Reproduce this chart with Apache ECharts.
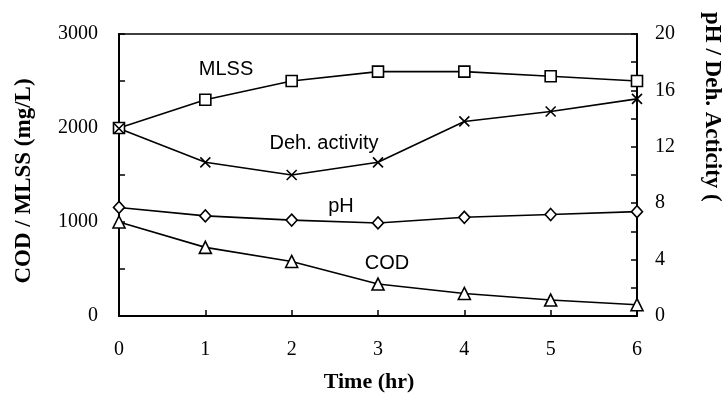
<!DOCTYPE html>
<html>
<head>
<meta charset="utf-8">
<script src="https://cdn.jsdelivr.net/npm/echarts@6/dist/echarts.min.js"></script>
<style>
  html, body { margin: 0; padding: 0; background: #fff; }
  #chart { width: 728px; height: 400px; }
</style>
</head>
<body>
<div id="chart"></div>
<script>
// Time axis (hr)
const hours = [0, 1, 2, 3, 4, 5, 6];
// Left axis series (mg/L)
const mlss = [2000, 2300, 2500, 2600, 2600, 2550, 2500];
const cod = [1000, 730, 580, 340, 240, 170, 120];
// Right axis series
const dehActivity = [13.3, 10.9, 10.0, 10.9, 13.8, 14.5, 15.4];
const ph = [7.7, 7.1, 6.8, 6.6, 7.0, 7.2, 7.4];

const serif = '"Liberation Serif", "Times New Roman", serif';
const sans = '"Liberation Sans", Arial, sans-serif';

const pairs = ys => hours.map((h, i) => [h, ys[i]]);

const crossPath = 'path://M0,0L10,10M10,0L0,10';

function lineSeries(name, ys, yAxisIndex, symbol, size) {
  return {
    name, type: 'line', yAxisIndex, data: pairs(ys),
    symbol, symbolSize: size, showSymbol: true,
    lineStyle: { color: '#000', width: 1.6 },
    itemStyle: { color: symbol === crossPath ? 'none' : '#fff', borderColor: '#000', borderWidth: 1.6 },
    emphasis: { disabled: true },
    animation: false, z: 3
  };
}

const tickStyle = { lineStyle: { color: '#000', width: 1.5 } };
const plainNumber = v => String(v);

const chart = echarts.init(document.getElementById('chart'));
chart.setOption({
  animation: false,
  backgroundColor: '#fff',
  grid: { left: 119, right: 91, top: 34, bottom: 84, show: true, borderColor: '#000', borderWidth: 1.5, containLabel: false },
  xAxis: {
    type: 'value', min: 0, max: 6, interval: 1,
    axisLine: { show: true, lineStyle: { color: '#000', width: 2 } },
    axisTick: { show: true, inside: true, length: 6, ...tickStyle },
    axisLabel: { color: '#000', fontFamily: serif, fontSize: 20, margin: 24, formatter: plainNumber },
    splitLine: { show: false }
  },
  yAxis: [
    {
      type: 'value', min: 0, max: 3000, interval: 1000, position: 'left',
      axisLine: { show: true, lineStyle: { color: '#000', width: 2 } },
      axisTick: { show: true, inside: true, length: 6, ...tickStyle },
      minorTick: { show: true, splitNumber: 2, length: 6, lineStyle: { color: '#000', width: 1.5 } },
      axisLabel: { color: '#000', fontFamily: serif, fontSize: 20, margin: 21, formatter: plainNumber },
      splitLine: { show: false }
    },
    {
      type: 'value', min: 0, max: 20, interval: 4, position: 'right',
      axisLine: { show: true, lineStyle: { color: '#000', width: 2 } },
      axisTick: { show: true, inside: true, length: 6, ...tickStyle },
      minorTick: { show: true, splitNumber: 2, length: 6, lineStyle: { color: '#000', width: 1.5 } },
      axisLabel: { color: '#000', fontFamily: serif, fontSize: 20, margin: 18, formatter: plainNumber },
      splitLine: { show: false }
    }
  ],
  series: [
    lineSeries('MLSS', mlss, 0, 'rect', 11),
    lineSeries('COD', cod, 0, 'triangle', 12),
    lineSeries('Deh. activity', dehActivity, 1, crossPath, 10),
    lineSeries('pH', ph, 1, 'diamond', [11, 12])
  ],
  graphic: [
    { type: 'text', x: 226, y: 69, style: { text: 'MLSS', font: '20px ' + sans, fill: '#000', textAlign: 'center', textVerticalAlign: 'middle' } },
    { type: 'text', x: 324, y: 143, style: { text: 'Deh. activity', font: '20px ' + sans, fill: '#000', textAlign: 'center', textVerticalAlign: 'middle' } },
    { type: 'text', x: 341, y: 206, style: { text: 'pH', font: '20px ' + sans, fill: '#000', textAlign: 'center', textVerticalAlign: 'middle' } },
    { type: 'text', x: 387, y: 263, style: { text: 'COD', font: '20px ' + sans, fill: '#000', textAlign: 'center', textVerticalAlign: 'middle' } },
    { type: 'text', x: 369, y: 382, style: { text: 'Time (hr)', font: 'bold 22px ' + serif, fill: '#000', textAlign: 'center', textVerticalAlign: 'middle' } },
    { type: 'text', x: 24, y: 181, rotation: Math.PI / 2, style: { text: 'COD / MLSS (mg/L)', font: 'bold 23px ' + serif, fill: '#000', textAlign: 'center', textVerticalAlign: 'middle' } },
    { type: 'text', x: 712, y: 12, rotation: -Math.PI / 2, style: { text: 'pH / Deh. Acticity (', font: 'bold 23px ' + serif, fill: '#000', textAlign: 'left', textVerticalAlign: 'middle' } }
  ]
});
</script>
</body>
</html>
